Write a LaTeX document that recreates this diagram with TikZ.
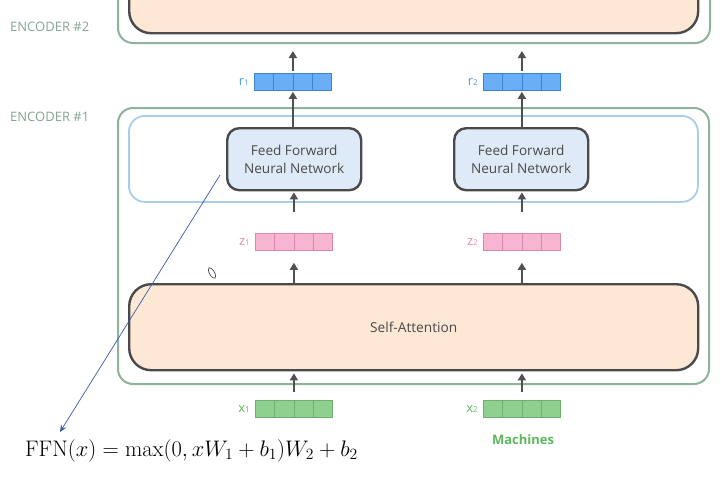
\documentclass[tikz,border=0pt]{standalone}
\usepackage{fontspec}
\setsansfont{Open Sans}
\usetikzlibrary{arrows.meta,calc}
\definecolor{encgreen}{HTML}{8DB39C}
\definecolor{enctext}{HTML}{86A595}
\definecolor{lblue}{HTML}{A9CDEA}
\definecolor{ffnfill}{HTML}{DFEAF8}
\definecolor{boxline}{HTML}{4A4A4A}
\definecolor{peach}{HTML}{FDE8D6}
\definecolor{rfill}{HTML}{6AAEF5}
\definecolor{rdraw}{HTML}{3F84C8}
\definecolor{rtext}{HTML}{4AA3DF}
\definecolor{zfill}{HTML}{F8B5D2}
\definecolor{zdraw}{HTML}{D98AAC}
\definecolor{ztext}{HTML}{E98BB0}
\definecolor{xfill}{HTML}{8FD08F}
\definecolor{xdraw}{HTML}{6FAF72}
\definecolor{xtext}{HTML}{5CB85C}
\definecolor{arrgray}{HTML}{505050}
\definecolor{annblue}{HTML}{3D5AA8}
\begin{document}
\begin{tikzpicture}[x=1pt,y=-1pt,
  encbox/.style={draw=encgreen, line width=2pt, rounded corners=15pt, anchor=north west, inner sep=0pt},
  innerbox/.style={draw=boxline, line width=2.4pt, fill=peach, rounded corners=22pt, anchor=north west, inner sep=0pt},
  bluebox/.style={draw=lblue, line width=1.8pt, rounded corners=16pt, anchor=north west, inner sep=0pt},
  ffnbox/.style={draw=boxline, line width=2.4pt, fill=ffnfill, rounded corners=12pt, anchor=north west,
     minimum width=134pt, minimum height=62pt, inner sep=0pt, align=center,
     font=\sffamily\fontsize{13.6}{18}\selectfont, text=boxline},
  vecbox/.style 2 args={draw=#2, fill=#1, line width=0.8pt, anchor=north west, minimum width=77pt,
     minimum height=17pt, inner sep=0pt,
     path picture={\foreach \i in {1,2,3}{\draw[#2, line width=0.8pt]
       ($(path picture bounding box.south west)!\i/4!(path picture bounding box.south east)$) --
       ($(path picture bounding box.north west)!\i/4!(path picture bounding box.north east)$);}}},
  veclabel/.style={font=\sffamily\fontsize{13}{15}\selectfont, inner sep=0pt},
  enclabel/.style={font=\sffamily\fontsize{13}{15}\selectfont, text=enctext, anchor=west, inner sep=0pt},
  arr/.style={draw=arrgray, line width=2.4pt, -{Triangle[width=8pt,length=7pt]}}
]
\useasboundingbox (0,0) rectangle (721,477);
\clip (0,0) rectangle (721,477);
\fill[white] (0,0) rectangle (721,477);

% Encoder 2
\node[encbox, minimum width=592pt, minimum height=72pt] (enc2) at (117,-30) {};
\node[innerbox, minimum width=569pt, minimum height=72pt] (enc2in) at (128,-40) {};
\node[enclabel] (enc2lab) at (10,27) {ENCODER \#2};

% r vectors
\node[vecbox={rfill}{rdraw}] (r1) at (254,73) {};
\node[vecbox={rfill}{rdraw}] (r2) at (483,73) {};
\node[veclabel, text=rtext, anchor=east] (r1lab) at ($(r1.west)+(-5,0)$) {r{\fontsize{8}{9}\selectfont 1}};
\node[veclabel, text=rtext, anchor=east] (r2lab) at ($(r2.west)+(-5,0)$) {r{\fontsize{8}{9}\selectfont 2}};

% Encoder 1
\node[enclabel] (enc1lab) at (10,117) {ENCODER \#1};
\node[encbox, minimum width=591pt, minimum height=276pt] (enc1) at (117,107) {};
\node[bluebox, minimum width=569pt, minimum height=86pt] (ffl) at (128,115) {};
\node[ffnbox] (ffn1) at (226,127) {Feed Forward\\Neural Network};
\node[ffnbox] (ffn2) at (453,127) {Feed Forward\\Neural Network};

% z vectors
\node[vecbox={zfill}{zdraw}] (z1) at (255,233) {};
\node[vecbox={zfill}{zdraw}] (z2) at (483,233) {};
\node[veclabel, text=ztext, anchor=east] (z1lab) at ($(z1.west)+(-5,0)$) {z{\fontsize{8}{9}\selectfont 1}};
\node[veclabel, text=ztext, anchor=east] (z2lab) at ($(z2.west)+(-5,0)$) {z{\fontsize{8}{9}\selectfont 2}};

% Self-attention
\node[innerbox, minimum width=569pt, minimum height=86pt, font=\sffamily\fontsize{13.7}{16}\selectfont, text=boxline] (sa) at (128,283) {Self-Attention};

% x vectors
\node[vecbox={xfill}{xdraw}] (x1) at (255,400) {};
\node[vecbox={xfill}{xdraw}] (x2) at (483,400) {};
\node[veclabel, text=xtext, anchor=east] (x1lab) at ($(x1.west)+(-5,0)$) {x{\fontsize{8}{9}\selectfont 1}};
\node[veclabel, text=xtext, anchor=east] (x2lab) at ($(x2.west)+(-5,0)$) {x{\fontsize{8}{9}\selectfont 2}};
\node[font=\sffamily\bfseries\fontsize{13}{15}\selectfont, text=xtext, inner sep=0pt] (mach) at (523,440) {Machines};

% arrows
\foreach \n in {1,2}{
  \draw[arr, shorten <=8pt, shorten >=2pt] (x\n.north) -- (x\n.north |- sa.south);
  \draw[arr, shorten >=12pt] (z\n.south |- sa.north) -- (z\n.south);
  \draw[arr, shorten <=21pt, shorten >=1pt] (z\n.north) -- (z\n.north |- ffn\n.south);
  \draw[arr, shorten >=1pt] (r\n.south |- ffn\n.north) -- (r\n.south);
  \draw[arr, shorten <=2pt, shorten >=7pt] (r\n.north) -- (r\n.north |- enc2.south);
}

% pencil cursor
\draw[boxline, line width=0.7pt, rotate around={-60:(212,273)}] (212,273) ellipse (6pt and 2.5pt);

% annotation
\coordinate (annstart) at (220,175);
\coordinate (annend) at (60,432);
\draw[annblue, line width=0.7pt, -{Stealth[width=6pt,length=7pt]}] (annstart) -- (annend);

% formula
\node[anchor=base west, inner sep=0pt] (formula) at (25,456)
  {\scalebox{1.085}{\huge $\mathrm{FFN}(x)=\max(0,xW_1+b_1)W_2+b_2$}};
\end{tikzpicture}
\end{document}
